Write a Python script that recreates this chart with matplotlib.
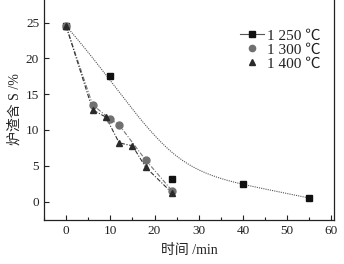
import numpy as np
import matplotlib
matplotlib.use("Agg")
import matplotlib.pyplot as plt
from matplotlib.lines import Line2D
from matplotlib.ticker import MultipleLocator

plt.rcParams['font.family'] = ['Liberation Serif', 'Noto Sans CJK SC']

# data
t_1250 = [0, 10, 24, 40, 55]
s_1250 = [24.5, 17.5, 3.2, 2.5, 0.5]
t_1300 = [0, 6, 10, 12, 18, 24]
s_1300 = [24.5, 13.5, 11.5, 10.7, 5.8, 1.5]
t_1400 = [0, 6, 9, 12, 15, 18, 24]
s_1400 = [24.5, 12.8, 11.8, 8.2, 7.8, 4.8, 1.2]
labels = ['1 250 \u2103', '1 300 \u2103', '1 400 \u2103']


def bspline(xs, ys, n=200):
    # clamped cubic B-spline using the data points as control points
    P = np.column_stack([xs, ys])
    k = 3
    m = len(P)
    inner = np.arange(1, m - k)
    knots = np.concatenate([[0] * (k + 1), inner, [m - k] * (k + 1)]).astype(float)
    u = np.linspace(0, m - k, n)
    u[-1] -= 1e-9

    def N(i, p, u):
        if p == 0:
            return np.where((knots[i] <= u) & (u < knots[i + 1]), 1.0, 0.0)
        a = 0.0
        d1 = knots[i + p] - knots[i]
        if d1 > 0:
            a = (u - knots[i]) / d1 * N(i, p - 1, u)
        b = 0.0
        d2 = knots[i + p + 1] - knots[i + 1]
        if d2 > 0:
            b = (knots[i + p + 1] - u) / d2 * N(i + 1, p - 1, u)
        return a + b

    B = np.array([N(i, k, u) for i in range(m)])
    C = B.T @ P
    return C[:, 0], C[:, 1]


fig = plt.figure(figsize=(3.44, 2.64), dpi=100)
ax = fig.add_axes([0.128, 0.1667, 0.843, 0.843])

cx, cy = bspline(t_1250, s_1250)
ax.plot(cx, cy, color='#555555', lw=0.8, ls=(0, (1, 1)))
ax.plot(t_1300, s_1300, color='#777777', lw=0.8, ls=(0, (4, 1.5, 1, 1.5)))
ax.plot(t_1400, s_1400, color='#333333', lw=0.8, ls=(0, (4, 1.5, 1, 1.5)))

ax.plot(t_1250, s_1250, 's', color='#111111', ms=4.5, ls='none')
ax.plot(t_1300, s_1300, 'o', color='#707070', ms=5, ls='none')
ax.plot(t_1400, s_1400, '^', color='#2a2a2a', ms=5, ls='none')

ax.set_xlim(-5, 60.6)
ax.set_ylim(-2.56, 28.5)
ax.xaxis.set_minor_locator(MultipleLocator(5))
ax.tick_params(which='both', direction='in', labelsize=9.5, colors='#222222')
ax.tick_params(which='major', length=3.5, width=0.8)
ax.tick_params(which='minor', length=2, width=0.8)
ax.set_xticks([0, 10, 20, 30, 40, 50, 60])
ax.set_yticks([0, 5, 10, 15, 20, 25])
for s in ax.spines.values():
    s.set_linewidth(0.9)
    s.set_color('#222222')

ax.set_xlabel('时间 /min', fontsize=10, labelpad=5, color='#222222')
ax.set_ylabel('炉渣含 S /%', fontsize=10, labelpad=3, color='#222222')

handles = [
    Line2D([], [], color='#555555', lw=0.8, ls='-', marker='s',
           markerfacecolor='#111111', markeredgecolor='#111111', ms=4),
    Line2D([], [], ls='none', marker='o', color='#707070', ms=4.5),
    Line2D([], [], ls='none', marker='^', color='#2a2a2a', ms=4.5),
]
leg = ax.legend(handles, labels, loc='upper right', bbox_to_anchor=(0.985, 0.9),
                frameon=False, fontsize=11, handlelength=1.6, handletextpad=0.2,
                labelspacing=0.02, borderaxespad=0.2)
for txt in leg.get_texts():
    txt.set_color('#222222')

fig.savefig('out.png', dpi=100)
